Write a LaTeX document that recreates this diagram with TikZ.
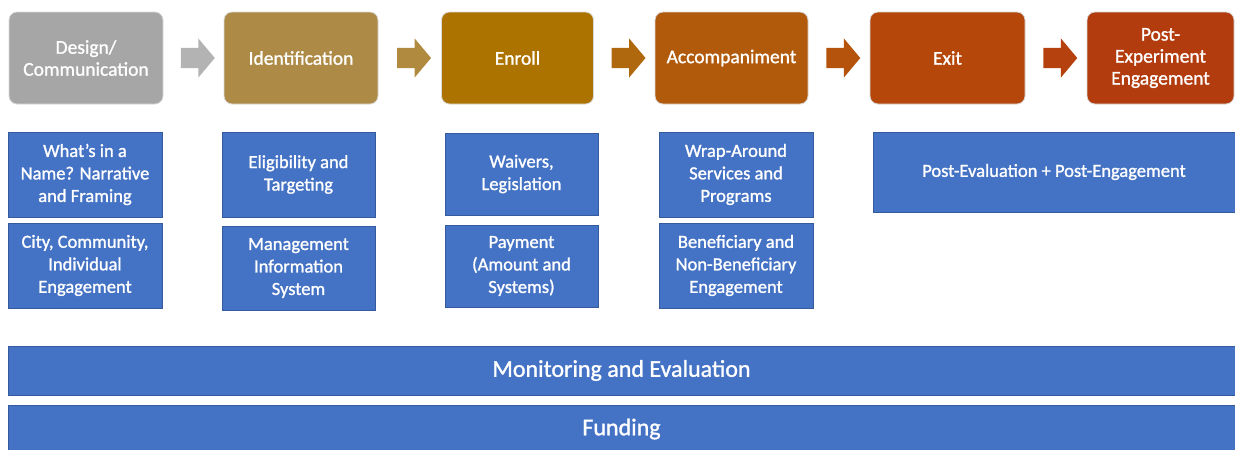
\documentclass[tikz,border=0pt]{standalone}
\usepackage{fontspec}
\setmainfont{Carlito}[UprightFeatures={FakeBold=1.2}]
\usetikzlibrary{shapes.arrows,calc}
\definecolor{cDesign}{HTML}{A6A6A6}
\definecolor{cIdent}{HTML}{AD8A45}
\definecolor{cEnroll}{HTML}{AD7300}
\definecolor{cAccomp}{HTML}{B25A0C}
\definecolor{cExit}{HTML}{B5470A}
\definecolor{cPost}{HTML}{B23C0E}
\definecolor{aOne}{HTML}{B3B3B3}
\definecolor{aTwo}{HTML}{B08A3E}
\definecolor{aThree}{HTML}{B0680E}
\definecolor{aFour}{HTML}{B5520C}
\definecolor{aFive}{HTML}{B5420E}
\definecolor{cBlue}{HTML}{4472C4}
\tikzset{
  stage/.style={draw=white!85!black, line width=0.8pt, rounded corners=8pt, text=white,
    font=\fontsize{19.5}{22}\selectfont, align=center, inner sep=0pt,
    minimum width=154pt, minimum height=92pt},
  item/.style={fill=cBlue, draw=cBlue!80!black, line width=0.4pt, text=white,
    font=\fontsize{18.5}{22.5}\selectfont, align=center, inner sep=0pt,
    minimum width=154pt, minimum height=85pt},
  bar/.style={fill=cBlue, draw=cBlue!80!black, line width=0.4pt, text=white,
    font=\fontsize{24}{26}\selectfont, inner sep=0pt},
  flow/.style={single arrow, draw=none, inner xsep=0pt, inner ysep=10pt,
    minimum height=34pt, minimum width=39pt, single arrow tip angle=100,
    single arrow head extend=9.5pt}
}
\begin{document}
\begin{tikzpicture}[x=1pt,y=-1pt]
\useasboundingbox (0,0) rectangle (1235,450);
% stages
\node[stage, fill=cDesign] (s1) at (86,58) {Design/\\Communication};
\node[stage, fill=cIdent] (s2) at (301,58) {Identification};
\node[stage, fill=cEnroll, minimum width=152pt] (s3) at (517.5,58) {Enroll};
\node[stage, fill=cAccomp, minimum width=153pt] (s4) at (731.5,58) {Accompaniment};
\node[stage, fill=cExit, minimum width=155pt] (s5) at (947.5,58) {Exit};
\node[stage, fill=cPost, minimum width=147pt] (s6) at (1160.5,58) {Post-\\Experiment\\Engagement};
% arrows
\node[flow, fill=aOne] (a1) at ($(s1.east)!0.5!(s2.west)$) {};
\node[flow, fill=aTwo] (a2) at ($(s2.east)!0.5!(s3.west)$) {};
\node[flow, fill=aThree] (a3) at ($(s3.east)!0.5!(s4.west)$) {};
\node[flow, fill=aFour] (a4) at ($(s4.east)!0.5!(s5.west)$) {};
\node[flow, fill=aFive] (a5) at ($(s5.east)!0.5!(s6.west)$) {};
% items
\node[item] (i11) at (85,174.5) {What’s in a\\Name? Narrative\\and Framing};
\node[item] (i12) at (85,265.5) {City, Community,\\Individual\\Engagement};
\node[item, minimum width=153pt] (i21) at (298.5,174.5) {Eligibility and\\Targeting};
\node[item, minimum width=153pt, minimum height=84pt] (i22) at (298.5,268) {Management\\Information\\System};
\node[item, minimum width=153pt, minimum height=82pt] (i31) at (521.5,174) {Waivers,\\Legislation};
\node[item, minimum width=153pt, minimum height=82pt] (i32) at (521.5,266) {Payment\\(Amount and\\Systems)};
\node[item] (i41) at (736,174.5) {Wrap-Around\\Services and\\Programs};
\node[item] (i42) at (736,265.5) {Beneficiary and\\Non-Beneficiary\\Engagement};
\node[item, minimum width=362pt, minimum height=80pt] (i5) at (1054,172) {Post-Evaluation + Post-Engagement};
% bars
\node[bar, minimum width=1227pt, minimum height=49pt] (mon) at (621.5,370.5) {\raisebox{-2pt}{Monitoring and Evaluation}};
\node[bar, minimum width=1227pt, minimum height=48pt] (fund) at (621.5,429) {\raisebox{-2pt}{Funding}};
\end{tikzpicture}
\end{document}
